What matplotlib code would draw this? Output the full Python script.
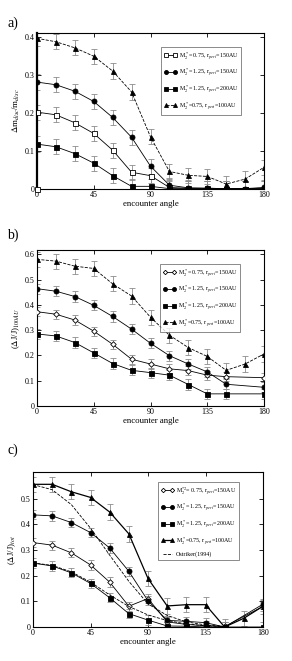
import numpy as np
import matplotlib
matplotlib.use("Agg")
import matplotlib.pyplot as plt
from matplotlib.ticker import MultipleLocator, FuncFormatter

plt.rcParams['font.family'] = ['Liberation Serif', 'DejaVu Serif']
plt.rcParams['mathtext.fontset'] = 'stix'

angles = [0, 15, 30, 45, 60, 75, 90, 105, 120, 135, 150, 165, 180]
angles_b = [0, 15, 30, 45, 60, 75, 90, 105, 120, 135, 150, 180]

labels = [r"M$_2^*$= 0.75, r$_{peri}$=150AU",
          r"M$_2^*$= 1.25, r$_{peri}$=150AU",
          r"M$_2^*$= 1.25, r$_{peri}$=200AU",
          r"M$_2^*$=0.75, r$_{peri}$=100AU"]
label_c0 = r"M$_2^{*2}$= 0.75, r$_{peri}$=150AU"
label_ost = "Ostriker(1994)"

# Panel a: delta m_disc / m_disc
a_open_sq = [0.202, 0.195, 0.174, 0.146, 0.102, 0.044, 0.035, 0.004, 0.002, 0.002, 0.001, 0.001, 0.002]
a_circle = [0.281, 0.274, 0.257, 0.230, 0.188, 0.136, 0.060, 0.010, 0.003, 0.002, 0.001, 0.001, 0.004]
a_square = [0.118, 0.111, 0.093, 0.068, 0.035, 0.007, 0.007, 0.001, 0.001, 0.001, 0.001, 0.001, 0.002]
a_triangle = [0.396, 0.387, 0.371, 0.349, 0.310, 0.255, 0.137, 0.046, 0.036, 0.033, 0.013, 0.026, 0.057]
a_err = [0.02, 0.02, 0.02, 0.02]
a_origin_x = [0]
a_origin_y = [0]

# Panel b: (dJ/J)_100AU
b_diamond = [0.373, 0.363, 0.340, 0.296, 0.244, 0.185, 0.166, 0.147, 0.140, 0.122, 0.116, 0.112]
b_circle = [0.464, 0.454, 0.433, 0.398, 0.354, 0.304, 0.248, 0.199, 0.166, 0.135, 0.086, 0.074]
b_square = [0.285, 0.277, 0.251, 0.210, 0.168, 0.141, 0.132, 0.122, 0.085, 0.048, 0.048, 0.048]
b_triangle = [0.580, 0.573, 0.553, 0.544, 0.483, 0.435, 0.351, 0.280, 0.231, 0.196, 0.141, 0.166, 0.206]
b_err = [0.018, 0.02, 0.02, 0.03]

# Panel c: (dJ/J)_tot
c_diamond = [0.329, 0.319, 0.289, 0.242, 0.175, 0.081, 0.111, 0.020, 0.010, 0.005, 0.002, 0.080]
c_circle = [0.437, 0.433, 0.407, 0.368, 0.308, 0.217, 0.102, 0.026, 0.022, 0.017, 0.0, 0.089]
c_square = [0.249, 0.238, 0.211, 0.170, 0.114, 0.052, 0.027, 0.004, 0.003, 0.0, 0.0, 0.0]
c_triangle = [0.556, 0.556, 0.527, 0.505, 0.448, 0.363, 0.189, 0.082, 0.087, 0.087, 0.0, 0.034, 0.081]
c_err = [0.018, 0.018, 0.018, 0.03]
ost_x = [0, 15, 30, 45, 60, 75, 90, 105, 120, 135, 150]
ost_high = [0.555, 0.535, 0.477, 0.385, 0.280, 0.178, 0.090, 0.045, 0.020, 0.008, 0.002]
ost_low = [0.250, 0.240, 0.215, 0.175, 0.125, 0.080, 0.047, 0.025, 0.012, 0.005, 0.001]

fig = plt.figure(figsize=(2.92, 6.61), dpi=100)
W, H = 292, 661

def add_axes(l, r, t, b):
    return fig.add_axes([l / W, 1 - b / H, (r - l) / W, (b - t) / H])

ERRC = '#8c8c8c'
FS = 5.8

def series(ax, x, y, err, marker, mfc, ls, label, lw=0.6, ms=3.6):
    ax.errorbar(x, y, yerr=err, fmt='none', ecolor=ERRC, elinewidth=0.6,
                capsize=2.0, capthick=0.6, zorder=2)
    ax.plot(x, y, color='black', ls=ls, lw=lw, marker=marker, ms=ms,
            mfc=mfc, mec='black', mew=0.6, label=label, zorder=3)

def style(ax, ymax, ystep, ylabel):
    ax.set_xlim(0, 180)
    ax.set_ylim(0, ymax)
    ax.xaxis.set_major_locator(MultipleLocator(45))
    ax.yaxis.set_major_locator(MultipleLocator(ystep))
    ax.tick_params(direction='in', top=True, right=True, length=3, width=0.6,
                   labelsize=FS, pad=1.5)
    for s in ax.spines.values():
        s.set_linewidth(0.8)
    ax.set_xlabel('encounter angle', fontsize=FS + 0.5, labelpad=1)
    ax.set_ylabel(ylabel, fontsize=FS + 0.5, labelpad=2)
    fmt = lambda v, p: '0' if abs(v) < 1e-9 else ('%g' % v)
    ax.xaxis.set_major_formatter(FuncFormatter(lambda v, p: '%d' % v))
    ax.yaxis.set_major_formatter(FuncFormatter(fmt))

def legend(ax, bbox):
    leg = ax.legend(loc='upper right', bbox_to_anchor=bbox, fontsize=4.3,
                    frameon=True, fancybox=False, edgecolor='#555555',
                    numpoints=2, markerscale=0.8, handlelength=2.1,
                    handletextpad=0.3, borderpad=0.5, labelspacing=0.85,
                    borderaxespad=0)
    leg.get_frame().set_linewidth(0.6)

# ---- panel a
axa = add_axes(37, 264, 33, 189)
series(axa, angles, a_open_sq, a_err[0], 's', 'white', '-', labels[0])
series(axa, angles, a_circle, a_err[1], 'o', 'black', '-', labels[1])
series(axa, angles, a_square, a_err[2], 's', 'black', '-', labels[2])
series(axa, angles, a_triangle, a_err[3], '^', 'black', '--', labels[3])
axa.plot(a_origin_x, a_origin_y, ls='none', marker='s', ms=3.6, mfc='white',
         mec='black', mew=0.6, clip_on=False, zorder=5)
style(axa, 0.41, 0.1, r'$\Delta$m$_{disc}$/m$_{disc}$')
axa.spines['left'].set_linewidth(1.6)
legend(axa, ((241 - 37) / 227, (189 - 47) / 156))
fig.text(7 / W, 1 - 23 / H, 'a)', fontsize=10, va='center', ha='left')

# ---- panel b
axb = add_axes(37, 264, 250, 406)
series(axb, angles_b, b_diamond, b_err[0], 'D', 'white', '-', labels[0], ms=2.8)
series(axb, angles_b, b_circle, b_err[1], 'o', 'black', '-', labels[1])
series(axb, angles_b, b_square, b_err[2], 's', 'black', '-', labels[2])
series(axb, angles, b_triangle, b_err[3], '^', 'black', '--', labels[3])
style(axb, 0.617, 0.1, r'($\Delta$J/J)$_{100AU}$')
legend(axb, ((240 - 37) / 227, (406 - 264) / 156))
fig.text(7 / W, 1 - 235 / H, 'b)', fontsize=10, va='center', ha='left')

# ---- panel c
axc = add_axes(33, 263, 472, 627)
series(axc, angles_b, c_diamond, c_err[0], 'D', 'white', '-', label_c0, ms=2.8)
series(axc, angles_b, c_circle, c_err[1], 'o', 'black', '-', labels[1])
series(axc, angles_b, c_square, c_err[2], 's', 'black', '-', labels[2])
series(axc, angles, c_triangle, c_err[3], '^', 'black', '-', labels[3], lw=0.9)
axc.plot(ost_x, ost_high, color='black', ls='--', lw=0.6, label=label_ost, zorder=3)
axc.plot(ost_x, ost_low, color='black', ls='--', lw=0.6, zorder=3)
style(axc, 0.604, 0.1, r'($\Delta$J/J)$_{tot}$')
axc.set_yticks([0, 0.1, 0.2, 0.3, 0.4, 0.5])
legend(axc, ((239 - 33) / 230, (627 - 482) / 155))
fig.text(7 / W, 1 - 450 / H, 'c)', fontsize=10, va='center', ha='left')

fig.savefig('out.png', dpi=100)
